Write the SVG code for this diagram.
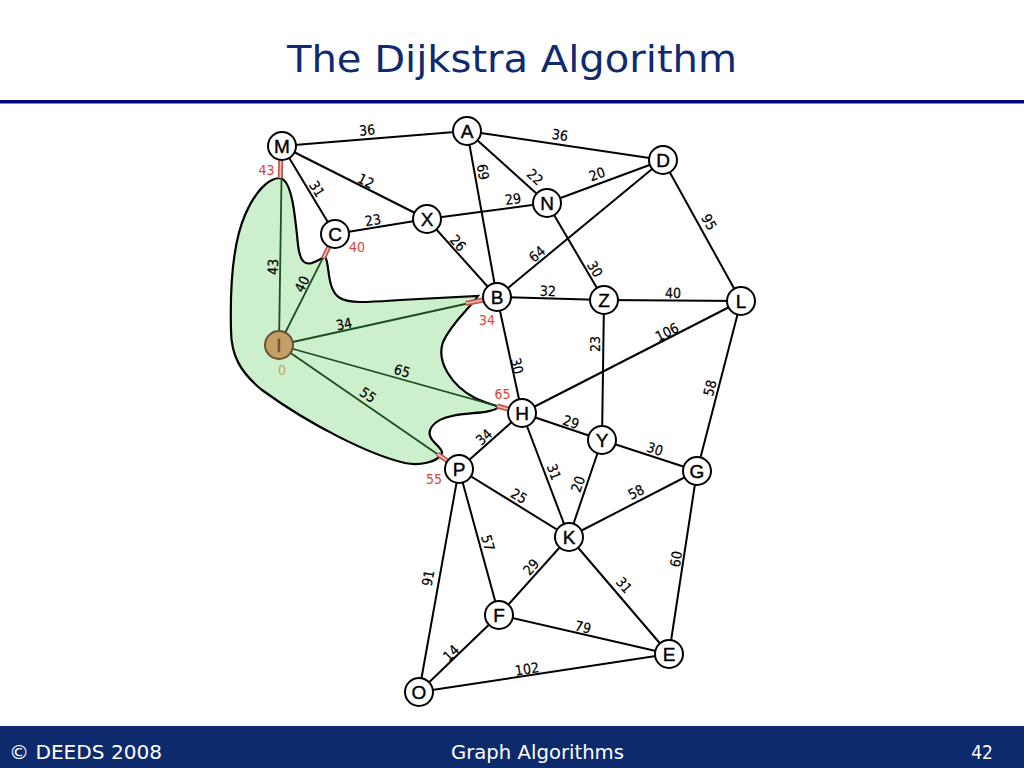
<svg xmlns="http://www.w3.org/2000/svg" width="1024" height="768" viewBox="0 0 1024 768">
<style>
.e{stroke:#000;stroke-width:2;fill:none}
.eg{stroke:#1e4d1e;stroke-width:1.8;fill:none}
.rm{stroke:#c8504a;stroke-width:5;fill:none}
.rmi{stroke:#f2c4bc;stroke-width:1.6;fill:none}
.n{fill:#fff;stroke:#000;stroke-width:2}
.nl{font-family:"Liberation Sans",Arial,sans-serif;font-size:19px;fill:#000;stroke:#000;stroke-width:0.4;text-anchor:middle;dominant-baseline:central}
.w{font-family:"Liberation Sans Narrow","DejaVu Sans Condensed","Liberation Sans",sans-serif;font-size:14px;fill:#000;stroke:#000;stroke-width:0.2;text-anchor:middle;dominant-baseline:central}
.r{font-family:"Liberation Sans Narrow","DejaVu Sans Condensed","Liberation Sans",sans-serif;font-size:14px;fill:#d9453a;text-anchor:middle;dominant-baseline:central}
</style>
<rect width="1024" height="768" fill="#fff"/>
<text x="512" y="72" font-family="'DejaVu Sans Condensed','Liberation Sans',sans-serif" font-size="38" fill="#0f2a6e" text-anchor="middle" textLength="450" lengthAdjust="spacingAndGlyphs">The Dijkstra Algorithm</text>
<rect x="0" y="100" width="1024" height="3.5" fill="#000a7a"/>
<g id="region">
<path d="M280,178 C292,180 295,215 298,245 C300,262 305,265 312,263 C318,261 322,258 325,257 C330,262 326,290 340,298 C350,304 370,302 400,300 L478,296 C470,308 452,322 443,342 C436,362 452,386 475,398 C485,403 495,405 499,407 C490,414 470,412 452,416 C432,420 424,432 434,442 C440,448 444,452 441,455 C436,462 420,466 405,463 C370,455 310,425 262,390 C240,372 231,355 231,330 C230,290 232,245 245,215 C255,192 268,178 280,178 Z" fill="#ccefcc" stroke="#000" stroke-width="2.2"/>
</g>
<g id="connectors">
<line class="e" x1="282" y1="146" x2="467" y2="131"/>
<line class="e" x1="467" y1="131" x2="663" y2="160"/>
<line class="e" x1="282" y1="146" x2="427" y2="219"/>
<line class="e" x1="282" y1="146" x2="335" y2="234"/>
<line class="e" x1="335" y1="234" x2="427" y2="219"/>
<line class="e" x1="427" y1="219" x2="547" y2="203"/>
<line class="e" x1="427" y1="219" x2="497" y2="297"/>
<line class="e" x1="467" y1="131" x2="547" y2="203"/>
<line class="e" x1="467" y1="131" x2="497" y2="297"/>
<line class="e" x1="547" y1="203" x2="663" y2="160"/>
<line class="e" x1="663" y1="160" x2="497" y2="297"/>
<line class="e" x1="547" y1="203" x2="604" y2="300"/>
<line class="e" x1="663" y1="160" x2="741" y2="301"/>
<line class="e" x1="497" y1="297" x2="604" y2="300"/>
<line class="e" x1="604" y1="300" x2="741" y2="301"/>
<line class="e" x1="497" y1="297" x2="522" y2="413"/>
<line class="e" x1="604" y1="300" x2="602" y2="440"/>
<line class="e" x1="741" y1="301" x2="522" y2="413"/>
<line class="e" x1="741" y1="301" x2="697" y2="471"/>
<line class="e" x1="522" y1="413" x2="459" y2="469"/>
<line class="e" x1="522" y1="413" x2="602" y2="440"/>
<line class="e" x1="522" y1="413" x2="569" y2="537"/>
<line class="e" x1="602" y1="440" x2="569" y2="537"/>
<line class="e" x1="602" y1="440" x2="697" y2="471"/>
<line class="e" x1="697" y1="471" x2="569" y2="537"/>
<line class="e" x1="459" y1="469" x2="569" y2="537"/>
<line class="e" x1="459" y1="469" x2="499" y2="615"/>
<line class="e" x1="459" y1="469" x2="419" y2="692"/>
<line class="e" x1="569" y1="537" x2="499" y2="615"/>
<line class="e" x1="569" y1="537" x2="669" y2="654"/>
<line class="e" x1="697" y1="471" x2="669" y2="654"/>
<line class="e" x1="499" y1="615" x2="669" y2="654"/>
<line class="e" x1="499" y1="615" x2="419" y2="692"/>
<line class="e" x1="419" y1="692" x2="669" y2="654"/>
<line class="eg" x1="279" y1="345" x2="282" y2="146"/>
<line class="eg" x1="279" y1="345" x2="335" y2="234"/>
<line class="eg" x1="279" y1="345" x2="497" y2="297"/>
<line class="eg" x1="279" y1="345" x2="522" y2="413"/>
<line class="eg" x1="279" y1="345" x2="459" y2="469"/>
<g id="marks">
<line class="rm" x1="280.7" y1="160" x2="280.3" y2="178"/>
<line class="rmi" x1="280.7" y1="160" x2="280.3" y2="178"/>
<line class="rm" x1="329" y1="246.5" x2="323.5" y2="258"/>
<line class="rmi" x1="329" y1="246.5" x2="323.5" y2="258"/>
<line class="rm" x1="483" y1="300" x2="466" y2="303.5"/>
<line class="rmi" x1="483" y1="300" x2="466" y2="303.5"/>
<line class="rm" x1="508.5" y1="409.2" x2="497" y2="406"/>
<line class="rmi" x1="508.5" y1="409.2" x2="497" y2="406"/>
<line class="rm" x1="447.5" y1="461" x2="437.5" y2="454"/>
<line class="rmi" x1="447.5" y1="461" x2="437.5" y2="454"/>
</g>
<g id="weights">
<text class="w" transform="translate(367,130) rotate(-4.6)">36</text>
<text class="w" transform="translate(560,135) rotate(8.4)">36</text>
<text class="w" transform="translate(483,172) rotate(80)">69</text>
<text class="w" transform="translate(535,177) rotate(42)">22</text>
<text class="w" transform="translate(597,174) rotate(-20)">20</text>
<text class="w" transform="translate(317,189) rotate(58.5)">31</text>
<text class="w" transform="translate(366,181) rotate(26.7)">12</text>
<text class="w" transform="translate(373,220) rotate(-9)">23</text>
<text class="w" transform="translate(513,199) rotate(-8)">29</text>
<text class="w" transform="translate(458,243) rotate(47)">26</text>
<text class="w" transform="translate(537,254) rotate(-39.5)">64</text>
<text class="w" transform="translate(595,269) rotate(59.5)">30</text>
<text class="w" transform="translate(709,222) rotate(61)">95</text>
<text class="w" transform="translate(273,267) rotate(-89)">43</text>
<text class="w" transform="translate(302,284) rotate(-63)">40</text>
<text class="w" transform="translate(344,324) rotate(-12)">34</text>
<text class="w" transform="translate(402,371) rotate(15.9)">65</text>
<text class="w" transform="translate(368,395) rotate(34.8)">55</text>
<text class="w" transform="translate(548,291) rotate(1.6)">32</text>
<text class="w" transform="translate(673,293) rotate(0.4)">40</text>
<text class="w" transform="translate(595,344) rotate(-90)">23</text>
<text class="w" transform="translate(667,332) rotate(-27)">106</text>
<text class="w" transform="translate(517,366) rotate(77.8)">30</text>
<text class="w" transform="translate(710,388) rotate(-75.5)">58</text>
<text class="w" transform="translate(571,422) rotate(18.6)">29</text>
<text class="w" transform="translate(484,437) rotate(-41.6)">34</text>
<text class="w" transform="translate(655,449) rotate(18)">30</text>
<text class="w" transform="translate(554,472) rotate(69)">31</text>
<text class="w" transform="translate(578,484) rotate(-71)">20</text>
<text class="w" transform="translate(636,492) rotate(-27)">58</text>
<text class="w" transform="translate(519,496) rotate(31)">25</text>
<text class="w" transform="translate(488,543) rotate(74.7)">57</text>
<text class="w" transform="translate(428,578) rotate(-79.8)">91</text>
<text class="w" transform="translate(531,567) rotate(-48.5)">29</text>
<text class="w" transform="translate(624,585) rotate(49.5)">31</text>
<text class="w" transform="translate(676,559) rotate(-81.3)">60</text>
<text class="w" transform="translate(583,627) rotate(12.6)">79</text>
<text class="w" transform="translate(451,653) rotate(-44)">14</text>
<text class="w" transform="translate(527,669) rotate(-8.6)">102</text>
</g>
</g>
<g id="distances">
<text class="r" x="266.5" y="170">43</text>
<text class="r" x="357" y="247">40</text>
<text class="r" x="487" y="319.5">34</text>
<text class="r" x="502.5" y="393.5">65</text>
<text class="r" x="434" y="478.5">55</text>
<text class="r" x="282" y="370" style="fill:#c8a060">0</text>
</g>
<g id="node-M"><circle class="n" cx="282" cy="146" r="14"/><text class="nl" x="282" y="146">M</text></g>
<g id="node-A"><circle class="n" cx="467" cy="131" r="14"/><text class="nl" x="467" y="131">A</text></g>
<g id="node-D"><circle class="n" cx="663" cy="160" r="14"/><text class="nl" x="663" y="160">D</text></g>
<g id="node-N"><circle class="n" cx="547" cy="203" r="14"/><text class="nl" x="547" y="203">N</text></g>
<g id="node-X"><circle class="n" cx="427" cy="219" r="14"/><text class="nl" x="427" y="219">X</text></g>
<g id="node-C"><circle class="n" cx="335" cy="234" r="14"/><text class="nl" x="335" y="234">C</text></g>
<g id="node-B"><circle class="n" cx="497" cy="297" r="14"/><text class="nl" x="497" y="297">B</text></g>
<g id="node-Z"><circle class="n" cx="604" cy="300" r="14"/><text class="nl" x="604" y="300">Z</text></g>
<g id="node-L"><circle class="n" cx="741" cy="301" r="14"/><text class="nl" x="741" y="301">L</text></g>
<g id="node-I"><circle cx="279" cy="345" r="14" fill="#c4a068" stroke="#6a5030" stroke-width="2"/><text class="nl" x="279" y="345" style="fill:#6b4e2a;stroke:#6b4e2a">I</text></g>
<g id="node-H"><circle class="n" cx="522" cy="413" r="14"/><text class="nl" x="522" y="413">H</text></g>
<g id="node-Y"><circle class="n" cx="602" cy="440" r="14"/><text class="nl" x="602" y="440">Y</text></g>
<g id="node-G"><circle class="n" cx="697" cy="471" r="14"/><text class="nl" x="697" y="471">G</text></g>
<g id="node-P"><circle class="n" cx="459" cy="469" r="14"/><text class="nl" x="459" y="469">P</text></g>
<g id="node-K"><circle class="n" cx="569" cy="537" r="14"/><text class="nl" x="569" y="537">K</text></g>
<g id="node-F"><circle class="n" cx="499" cy="615" r="14"/><text class="nl" x="499" y="615">F</text></g>
<g id="node-E"><circle class="n" cx="669" cy="654" r="14"/><text class="nl" x="669" y="654">E</text></g>
<g id="node-O"><circle class="n" cx="419" cy="692" r="14"/><text class="nl" x="419" y="692">O</text></g>
<g id="footer">
<rect x="0" y="726" width="1024" height="42" fill="#0c2a6c"/>
<text x="9" y="759" font-family="'DejaVu Sans Condensed','Liberation Sans',sans-serif" font-size="19" fill="#fff" textLength="153" lengthAdjust="spacingAndGlyphs">© DEEDS 2008</text>
<text x="537.5" y="759" font-family="'DejaVu Sans Condensed','Liberation Sans',sans-serif" font-size="19" fill="#fff" text-anchor="middle" textLength="173" lengthAdjust="spacingAndGlyphs">Graph Algorithms</text>
<text x="993" y="759" font-family="'DejaVu Sans Condensed','Liberation Sans',sans-serif" font-size="19" fill="#fff" text-anchor="end">42</text>
</g>
</svg>
